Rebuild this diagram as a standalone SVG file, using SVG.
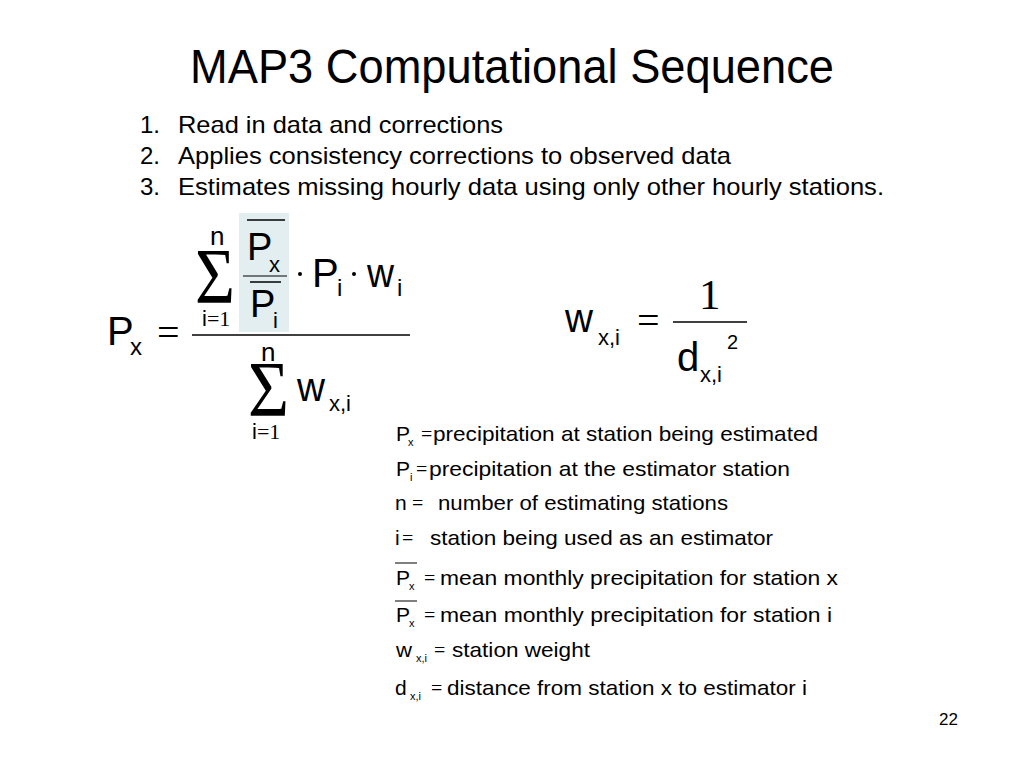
<svg xmlns="http://www.w3.org/2000/svg" width="1024" height="768" viewBox="0 0 1024 768">
<style>
text{font-family:"Liberation Sans",Arial,sans-serif;fill:#000}
.s{font-family:"Liberation Serif","Times New Roman",serif}
.ln{stroke:#000;fill:none}
</style>
<rect x="0" y="0" width="1024" height="768" fill="#fff"/>
<g id="title">
<text x="190" y="83" font-size="48" textLength="644" lengthAdjust="spacingAndGlyphs">MAP3 Computational Sequence</text>
</g>
<g id="list" font-size="24">
<text x="140" y="133">1.</text>
<text x="178" y="133" textLength="325" lengthAdjust="spacingAndGlyphs">Read in data and corrections</text>
<text x="140" y="164">2.</text>
<text x="178" y="164" textLength="553" lengthAdjust="spacingAndGlyphs">Applies consistency corrections to observed data</text>
<text x="140" y="195">3.</text>
<text x="178" y="195" textLength="706" lengthAdjust="spacingAndGlyphs">Estimates missing hourly data using only other hourly stations.</text>
</g>
<g id="formula-px">
<rect x="239" y="213" width="50" height="119" fill="#e2eeef"/>
<text x="107" y="345" font-size="40">P</text>
<text x="130" y="355" font-size="24">x</text>
<text class="s" x="157" y="346" font-size="40">=</text>
<text class="s" x="195" y="302" font-size="78" textLength="40" lengthAdjust="spacingAndGlyphs">Σ</text>
<text x="210" y="245" font-size="26">n</text>
<text x="202" y="326" font-size="22">i<tspan class="s">=1</tspan></text>
<line class="ln" x1="247" y1="220" x2="285" y2="220" stroke-width="1.5"/>
<text x="247" y="260" font-size="38">P</text>
<text x="269" y="272" font-size="22">x</text>
<line class="ln" x1="243" y1="276" x2="287" y2="276" stroke-width="1"/>
<line class="ln" x1="250" y1="282" x2="281" y2="282" stroke-width="1.5"/>
<text x="250" y="317" font-size="38">P</text>
<text x="273" y="328" font-size="22">i</text>
<circle cx="300" cy="274" r="2"/>
<text x="312" y="287" font-size="40">P</text>
<text x="337" y="296" font-size="24">i</text>
<circle cx="354" cy="274" r="2"/>
<text x="367" y="287" font-size="40" textLength="27" lengthAdjust="spacingAndGlyphs">w</text>
<text x="397" y="296" font-size="24">i</text>
<line class="ln" x1="192" y1="335" x2="410" y2="335" stroke-width="1.5"/>
<text x="261" y="361" font-size="26">n</text>
<text class="s" x="248" y="415" font-size="78" textLength="41" lengthAdjust="spacingAndGlyphs">Σ</text>
<text x="297" y="401" font-size="40" textLength="28" lengthAdjust="spacingAndGlyphs">w</text>
<text x="329" y="411" font-size="22">x,i</text>
<text x="252" y="439" font-size="22">i<tspan class="s">=1</tspan></text>
</g>
<g id="formula-w">
<text x="565" y="332" font-size="40" textLength="28" lengthAdjust="spacingAndGlyphs">w</text>
<text x="598" y="345" font-size="22">x,i</text>
<text class="s" x="637" y="334" font-size="40">=</text>
<text class="s" x="699" y="309" font-size="43">1</text>
<line class="ln" x1="673" y1="322" x2="747" y2="322" stroke-width="1.5"/>
<text x="677" y="371" font-size="40">d</text>
<text x="700" y="382" font-size="22">x,i</text>
<text x="727" y="349" font-size="20">2</text>
</g>
<g id="legend" font-size="21">
<text x="396" y="441">P</text><text x="408" y="446" font-size="11">x</text>
<text class="s" x="421" y="441" font-size="20">=</text>
<text x="433" y="441" textLength="385" lengthAdjust="spacingAndGlyphs">precipitation at station being estimated</text>

<text x="396" y="476">P</text><text x="410" y="481" font-size="11">i</text>
<text class="s" x="416" y="476" font-size="20">=</text>
<text x="429" y="476" textLength="361" lengthAdjust="spacingAndGlyphs">precipitation at the estimator  station</text>

<text x="395" y="510">n</text>
<text class="s" x="412" y="510" font-size="20">=</text>
<text x="438" y="510" textLength="290" lengthAdjust="spacingAndGlyphs">number  of estimating  stations</text>

<text x="395" y="545">i</text>
<text class="s" x="402" y="545" font-size="20">=</text>
<text x="430" y="545" textLength="343" lengthAdjust="spacingAndGlyphs">station  being  used as an estimator</text>

<line class="ln" x1="395" y1="563" x2="417" y2="563" stroke-width="1"/>
<text x="396" y="585">P</text><text x="409" y="590" font-size="11">x</text>
<text class="s" x="424" y="585" font-size="20">=</text>
<text x="440" y="585" textLength="398" lengthAdjust="spacingAndGlyphs">mean  monthly  precipitation for station x</text>

<line class="ln" x1="395" y1="601" x2="417" y2="601" stroke-width="1"/>
<text x="396" y="622">P</text><text x="409" y="627" font-size="11">x</text>
<text class="s" x="424" y="622" font-size="20">=</text>
<text x="440" y="622" textLength="392" lengthAdjust="spacingAndGlyphs">mean  monthly  precipitation for station i</text>

<text x="396" y="657" textLength="16" lengthAdjust="spacingAndGlyphs">w</text><text x="416" y="662" font-size="11">x,i</text>
<text class="s" x="434" y="657" font-size="20">=</text>
<text x="452" y="657" textLength="138" lengthAdjust="spacingAndGlyphs">station  weight</text>

<text x="395" y="695">d</text><text x="410" y="700" font-size="11">x,i</text>
<text class="s" x="431" y="695" font-size="20">=</text>
<text x="447" y="695" textLength="360" lengthAdjust="spacingAndGlyphs">distance from station x to estimator  i</text>
</g>
<g id="page-number">
<text x="939" y="725" font-size="17">22</text>
</g>
</svg>
